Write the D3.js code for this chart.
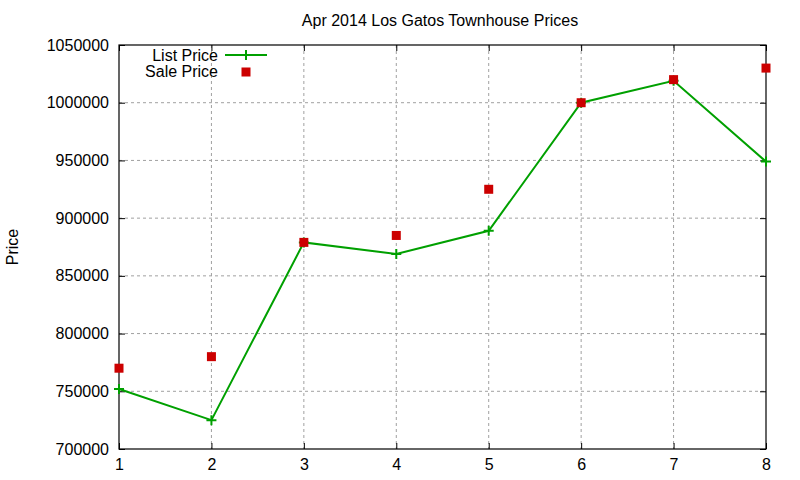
<!DOCTYPE html>
<html>
<head>
<meta charset="utf-8">
<script src="https://cdn.jsdelivr.net/npm/d3@7"></script>
<style>
body { margin: 0; background: #fff; }
text { font-family: "Liberation Sans", Arial, sans-serif; }
</style>
</head>
<body>
<svg id="chart"></svg>
<script>
var months = [1, 2, 3, 4, 5, 6, 7, 8];
var listPrice = [752000, 725000, 879000, 869000, 889000, 1000000, 1019000, 949000];
var salePrice = [770000, 780000, 879000, 885000, 925000, 1000000, 1020000, 1030000];
var yTicks = [700000, 750000, 800000, 850000, 900000, 950000, 1000000, 1050000];

var settings = { width: 800, height: 480 };
var m = { left: 119, right: 766, top: 45, bottom: 449 };

var svg = d3.select("#chart")
    .attr("width", settings.width)
    .attr("height", settings.height);

var x = d3.scaleLinear().domain([1, 8]).range([m.left, m.right]);
var y = d3.scaleLinear().domain([700000, 1050000]).range([m.bottom, m.top]);

// grid
var grid = svg.append("g");
grid.selectAll("line.gx")
    .data(months.slice(1, -1))
    .enter().append("line")
    .attr("x1", d => x(d)).attr("x2", d => x(d))
    .attr("y1", m.top).attr("y2", m.bottom)
    .attr("stroke", "#a0a0a0").attr("stroke-dasharray", "3,3");
grid.selectAll("line.gy")
    .data(yTicks.slice(1, -1))
    .enter().append("line")
    .attr("x1", m.left).attr("x2", m.right)
    .attr("y1", d => y(d)).attr("y2", d => y(d))
    .attr("stroke", "#a0a0a0").attr("stroke-dasharray", "3,3");

// axes (ticks point inward, mirrored)
var xAxisB = d3.axisBottom(x).tickValues(months).tickSizeInner(-6).tickSizeOuter(0).tickPadding(10).tickFormat(d3.format("d"));
var xAxisT = d3.axisTop(x).tickValues(months).tickSizeInner(-6).tickSizeOuter(0).tickFormat("");
var yAxisL = d3.axisLeft(y).tickValues(yTicks).tickSizeInner(-6).tickSizeOuter(0).tickPadding(10).tickFormat(d3.format("d"));
var yAxisR = d3.axisRight(y).tickValues(yTicks).tickSizeInner(-6).tickSizeOuter(0).tickFormat("");

function styleAxis(g) {
    g.select(".domain").remove();
    g.selectAll("line").attr("stroke", "#000");
    g.selectAll("text").attr("font-size", 16).attr("fill", "#000")
        .style("font-family", "'Liberation Sans', Arial, sans-serif");
}
svg.append("g").attr("transform", "translate(0," + m.bottom + ")").call(xAxisB).call(styleAxis);
svg.append("g").attr("transform", "translate(0," + m.top + ")").call(xAxisT).call(styleAxis);
svg.append("g").attr("transform", "translate(" + m.left + ",0)").call(yAxisL).call(styleAxis);
svg.append("g").attr("transform", "translate(" + m.right + ",0)").call(yAxisR).call(styleAxis);

svg.append("rect")
    .attr("x", m.left).attr("y", m.top)
    .attr("width", m.right - m.left).attr("height", m.bottom - m.top)
    .attr("fill", "none").attr("stroke", "#000").attr("stroke-width", 1.2);

// list price line
var line = d3.line().x((d, i) => x(months[i])).y(d => y(d));
svg.append("path")
    .datum(listPrice)
    .attr("d", line)
    .attr("fill", "none").attr("stroke", "#00a000").attr("stroke-width", 2);

function plus(g, cx, cy) {
    g.append("path")
        .attr("d", "M" + (cx - 5) + "," + cy + "H" + (cx + 5) + "M" + cx + "," + (cy - 5) + "V" + (cy + 5))
        .attr("stroke", "#00a000").attr("stroke-width", 2);
}
var pts = svg.append("g");
listPrice.forEach((d, i) => plus(pts, x(months[i]), y(d)));

// sale price squares
svg.append("g").selectAll("rect")
    .data(salePrice)
    .enter().append("rect")
    .attr("x", (d, i) => x(months[i]) - 4.5)
    .attr("y", d => y(d) - 4.5)
    .attr("width", 9).attr("height", 9)
    .attr("fill", "#cc0000");

// title
svg.append("text")
    .attr("x", 440).attr("y", 26)
    .attr("text-anchor", "middle")
    .attr("font-size", 16)
    .text("Apr 2014 Los Gatos Townhouse Prices");

// y label
svg.append("text")
    .attr("transform", "translate(18,247) rotate(-90)")
    .attr("text-anchor", "middle")
    .attr("font-size", 16)
    .text("Price");

// legend
var lg = svg.append("g");
lg.append("text").attr("x", 218).attr("y", 61).attr("text-anchor", "end")
    .attr("font-size", 16).text("List Price");
lg.append("line").attr("x1", 225).attr("x2", 267).attr("y1", 55).attr("y2", 55)
    .attr("stroke", "#00a000").attr("stroke-width", 2);
plus(lg, 246, 55);
lg.append("text").attr("x", 218).attr("y", 77).attr("text-anchor", "end")
    .attr("font-size", 16).text("Sale Price");
lg.append("rect").attr("x", 241.5).attr("y", 67.5).attr("width", 9).attr("height", 9)
    .attr("fill", "#cc0000");
</script>
</body>
</html>
